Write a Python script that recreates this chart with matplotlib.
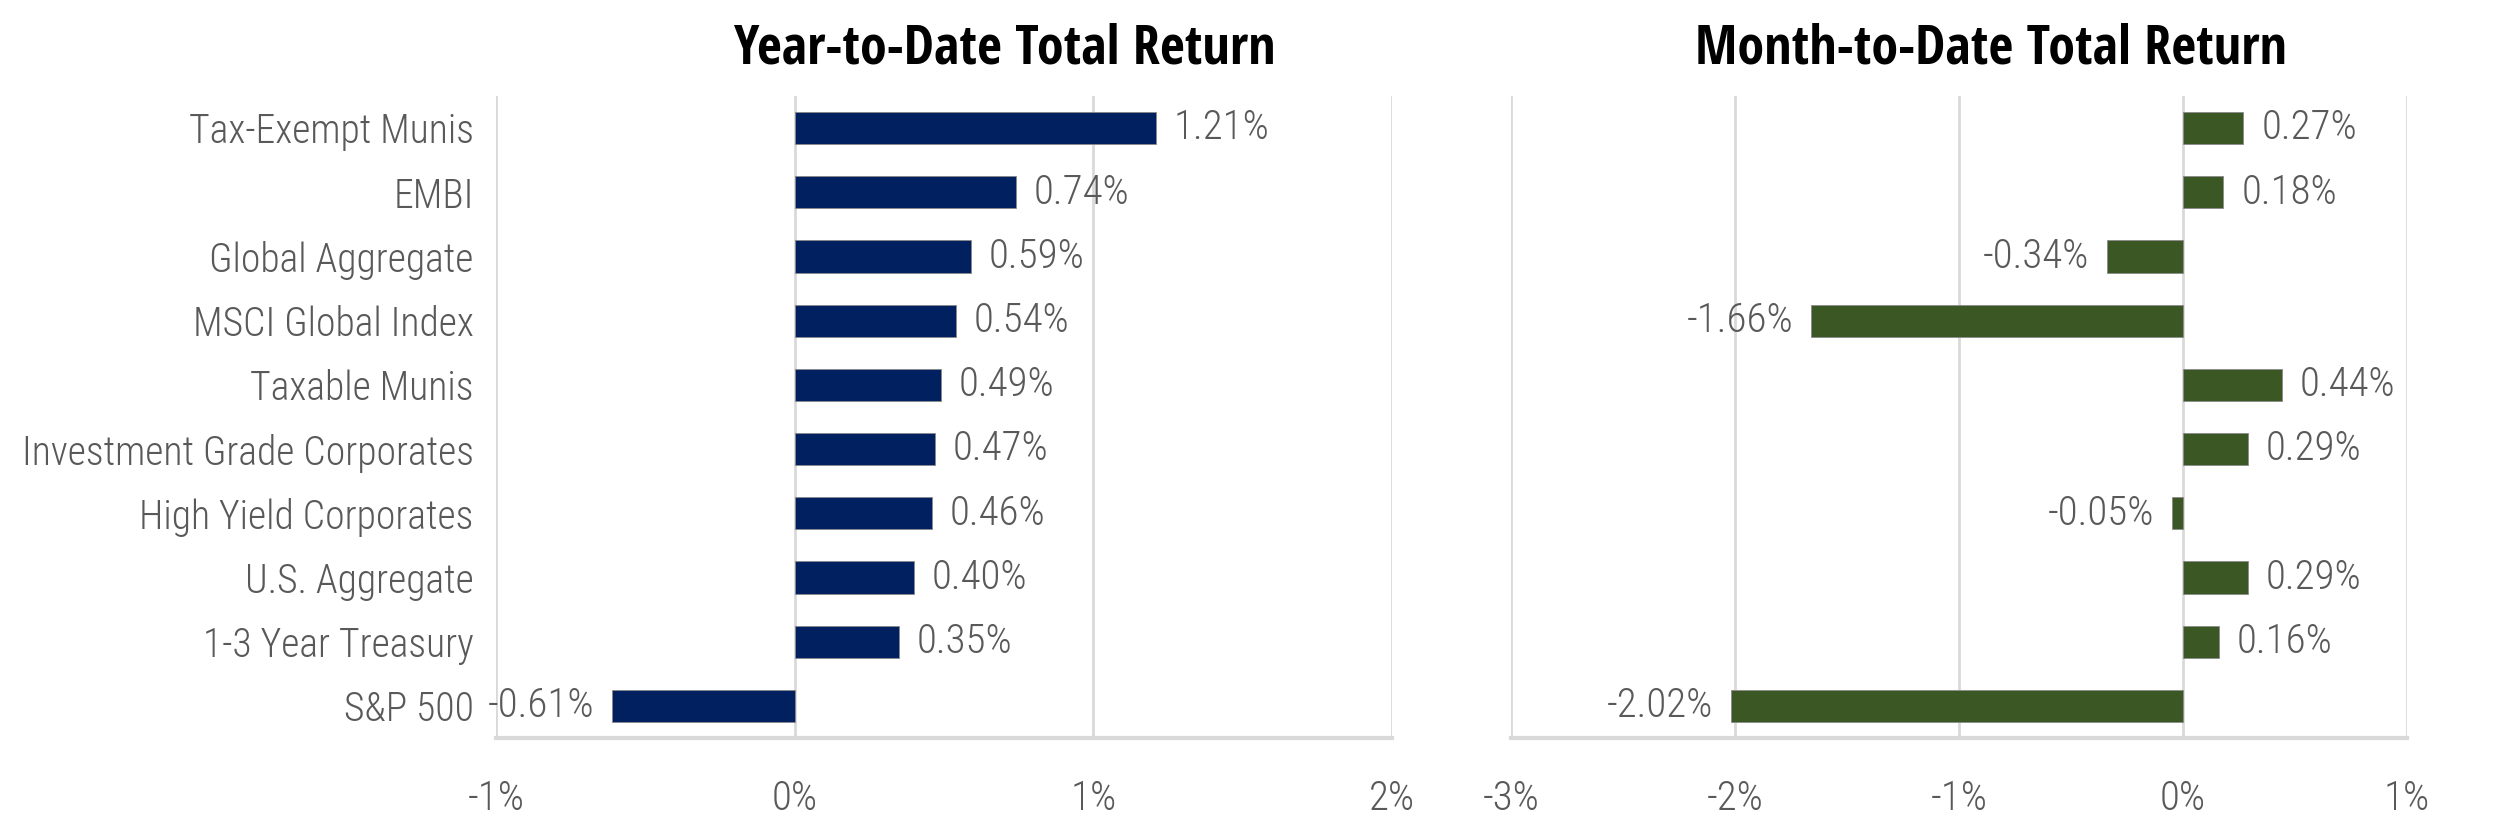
import numpy as np
import matplotlib
matplotlib.use("Agg")
import matplotlib.pyplot as plt

categories = ["Tax-Exempt Munis", "EMBI", "Global Aggregate", "MSCI Global Index",
              "Taxable Munis", "Investment Grade Corporates", "High Yield Corporates",
              "U.S. Aggregate", "1-3 Year Treasury", "S&P 500"]
ytd = [1.21, 0.74, 0.59, 0.54, 0.49, 0.47, 0.46, 0.40, 0.35, -0.61]
mtd = [0.27, 0.18, -0.34, -1.66, 0.44, 0.29, -0.05, 0.29, 0.16, -2.02]
ytd_ticks = [-1, 0, 1, 2]
mtd_ticks = [-3, -2, -1, 0, 1]

plt.rcParams["font.family"] = ["Roboto Condensed", "DejaVu Sans"]
LW = 300  # light weight for labels
FS = 28.5

fig = plt.figure(figsize=(25, 8.33), dpi=100)
W, H = 2500, 833
ax1 = fig.add_axes([496 / W, 1 - 738 / H, (1392 - 496) / W, (738 - 96) / H])
ax2 = fig.add_axes([1511 / W, 1 - 738 / H, (2407 - 1511) / W, (738 - 96) / H])

gray = "#595959"
grid = "#d9d9d9"


def draw(ax, vals, ticks, color, show_labels):
    y = np.arange(len(vals))
    ax.barh(y, vals, height=0.5, color=color, edgecolor="#8a8a8a", linewidth=0.6, zorder=3)
    ax.set_ylim(len(vals) - 0.5, -0.5)
    ax.set_xlim(ticks[0], ticks[-1])
    ax.set_xticks(ticks)
    ax.set_xticklabels([f"{t}%" for t in ticks], color=gray, fontsize=FS + 1, fontweight=LW)
    ax.tick_params(axis="x", length=0, pad=30)
    for t in ticks:
        ax.axvline(t, color=grid, lw=2, zorder=1)
    for s in ["top", "right", "left"]:
        ax.spines[s].set_visible(False)
    ax.spines["bottom"].set_color(grid)
    ax.spines["bottom"].set_linewidth(3)
    if show_labels:
        ax.set_yticks(y)
        ax.set_yticklabels(categories, color=gray, fontsize=FS, fontweight=LW)
        ax.tick_params(axis="y", length=0, pad=16)
    else:
        ax.set_yticks([])
    off = 0.06 * (ticks[-1] - ticks[0]) / 3
    for yi, v in zip(y, vals):
        if v >= 0:
            ax.text(v + off, yi, f"{v:.2f}%", va="center", ha="left", color=gray,
                    fontsize=FS + 1, fontweight=LW)
        else:
            ax.text(v - off, yi, f"{v:.2f}%", va="center", ha="right", color=gray,
                    fontsize=FS + 1, fontweight=LW)


draw(ax1, ytd, ytd_ticks, "#002060", True)
draw(ax2, mtd, mtd_ticks, "#3a5724", False)

tfont = ["Open Sans Condensed", "Roboto Condensed", "DejaVu Sans"]
fig.text(1004 / W, 1 - 49 / H, "Year-to-Date Total Return", ha="center", va="center",
         fontsize=39, fontweight="bold", color="black", family=tfont)
fig.text(1991 / W, 1 - 49 / H, "Month-to-Date Total Return", ha="center", va="center",
         fontsize=39, fontweight="bold", color="black", family=tfont)

fig.savefig("out.png", dpi=100, facecolor="white")
